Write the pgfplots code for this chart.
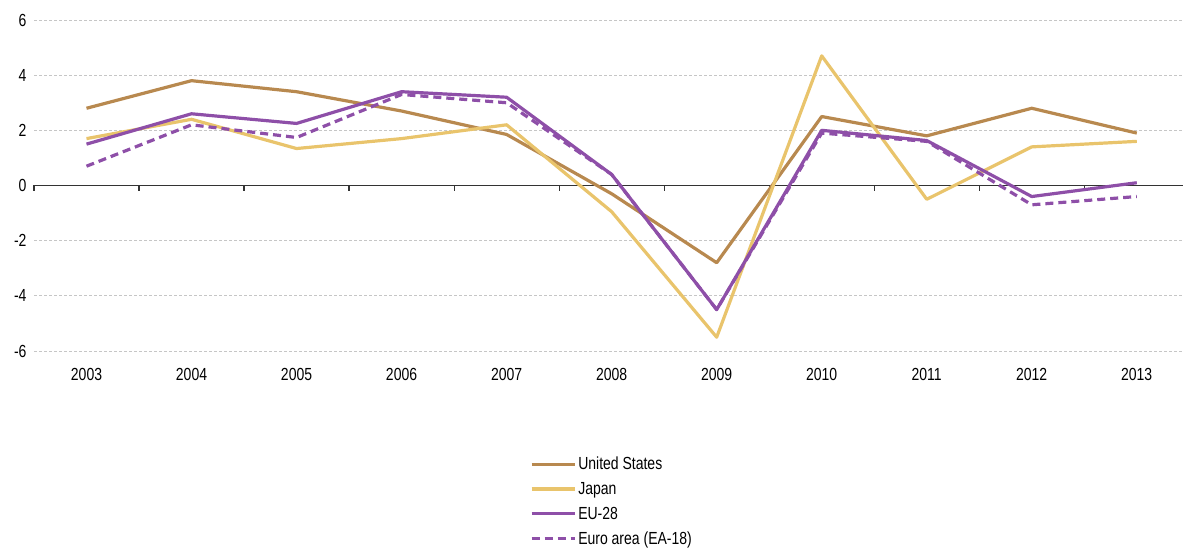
\documentclass[border=0pt]{standalone}
\usepackage{pgfplots}
\pgfplotsset{compat=1.18}
\usepackage{fontspec}
\setmainfont{Liberation Sans}[FakeStretch=0.8]
\definecolor{usc}{HTML}{B8894F}
\definecolor{jpc}{HTML}{E9C46C}
\definecolor{euc}{HTML}{8E4FA8}
\begin{document}
\begin{tikzpicture}
\begin{axis}[
  scale only axis,
  width=1149pt, height=331pt,
  xmin=2002.5, xmax=2013.44,
  ymin=-6, ymax=6,
  axis line style={draw=none},
  xtick={2003,...,2013},
  xticklabel style={/pgf/number format/1000 sep={}},
  ytick={-6,-4,...,6},
  major tick length=0pt,
  ymajorgrids,
  grid style={gray!45, densely dashed, line width=0.8pt},
  tick label style={font=\fontsize{17.5}{19}\selectfont},
  /pgf/number format/assume math mode=true,
  yticklabel style={xshift=-4pt},
  xticklabel style={yshift=-14pt},
  clip=false,
  legend style={at={(0.503,-0.314)}, anchor=north, draw=none, fill=none,
    font=\fontsize{17.5}{19}\selectfont, inner sep=0pt,
    row sep=7pt, legend cell align=left},
  legend image code/.code={\draw[#1] (0pt,0pt) -- (43pt,0pt);},
  every axis plot/.append style={line width=3.2pt, line join=round},
]
\draw[black!80, line width=1.3pt] (axis cs:2002.5,0) -- (axis cs:2013.44,0);
\pgfplotsinvokeforeach{2002.5,2003.5,2004.5,2005.5,2006.5,2007.5,2008.5,2009.5,2010.5,2011.5,2012.5}{
  \draw[black!80, line width=1.2pt] (axis cs:#1,0) -- ++(0pt,-6pt);
}
\addplot[usc] coordinates {(2003,2.8) (2004,3.8) (2005,3.4) (2006,2.7) (2007,1.85) (2008,-0.3) (2009,-2.8) (2010,2.5) (2011,1.8) (2012,2.8) (2013,1.9)};
\addlegendentry{United States}
\addplot[jpc] coordinates {(2003,1.7) (2004,2.4) (2005,1.34) (2006,1.7) (2007,2.2) (2008,-0.95) (2009,-5.5) (2010,4.7) (2011,-0.5) (2012,1.4) (2013,1.6)};
\addlegendentry{Japan}
\addplot[euc] coordinates {(2003,1.5) (2004,2.6) (2005,2.25) (2006,3.4) (2007,3.2) (2008,0.4) (2009,-4.5) (2010,2.0) (2011,1.63) (2012,-0.4) (2013,0.1)};
\addlegendentry{EU-28}
\addplot[euc, dash pattern=on 8pt off 5pt] coordinates {(2003,0.7) (2004,2.2) (2005,1.74) (2006,3.3) (2007,3.0) (2008,0.4) (2009,-4.5) (2010,1.9) (2011,1.6) (2012,-0.7) (2013,-0.4)};
\addlegendentry{Euro area (EA-18)}
\end{axis}
\pgfresetboundingbox
\path[use as bounding box] ([shift={(-34pt,-199pt)}]current axis.south west) rectangle ([shift={(0pt,20pt)}]current axis.north east);
\end{tikzpicture}
\end{document}
